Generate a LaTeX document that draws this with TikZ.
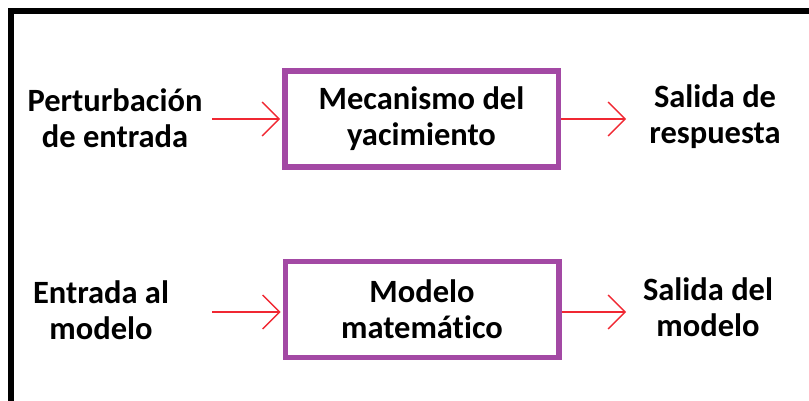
\documentclass[tikz,border=0pt]{standalone}
\usepackage{fontspec}
\setmainfont{Carlito}[Ligatures=NoCommon]
\usetikzlibrary{arrows.meta,positioning}
\definecolor{boxpurple}{RGB}{163,73,164}
\definecolor{flowred}{RGB}{240,40,50}

\begin{document}
\begin{tikzpicture}[
  x=1pt, y=1pt,
  every node/.style={font=\fontsize{32.5}{36}\selectfont\bfseries, align=center},
  block/.style={draw=boxpurple, line width=5.5pt, minimum width=273.5pt, minimum height=96pt, inner sep=0pt},
  lbl/.style={inner sep=0pt},
  flow/.style={draw=flowred, line width=1.3pt, -{Straight Barb[length=17pt, width=34pt]}, shorten >=2pt},
]
\useasboundingbox (0,0) rectangle (809,400);
\clip (0,0) rectangle (809,400);

% --- Frame -------------------------------------------------------
\draw[line width=5.5pt] (11,-20) -- (11,389) -- (830,389);

% --- Blocks ------------------------------------------------------
\node[block] (mecanismo) at (421.5,281) {Mecanismo del\\yacimiento};
\node[block] (modelo) at (422,90.5) {Modelo\\matemático};

% --- Labels ------------------------------------------------------
\node[lbl] (perturbacion) at (115,282) {Perturbación\\de entrada};
\node[lbl] (respuesta) at (715,283) {Salida de\\respuesta};
\node[lbl] (entrada) at (101,90) {Entrada al\\modelo};
\node[lbl] (salidamodelo) at (708,93) {Salida del\\modelo};

% --- Arrow ends --------------------------------------------------
\coordinate (in1) at (212,281);
\coordinate (out1) at (628,281);
\coordinate (in2) at (212,88);
\coordinate (out2) at (628,88);

% --- Arrows ------------------------------------------------------
\draw[flow] (in1) -- (in1 -| mecanismo.west);
\draw[flow] (mecanismo.east |- out1) -- (out1);
\draw[flow] (in2) -- (in2 -| modelo.west);
\draw[flow] (modelo.east |- out2) -- (out2);

\end{tikzpicture}
\end{document}
